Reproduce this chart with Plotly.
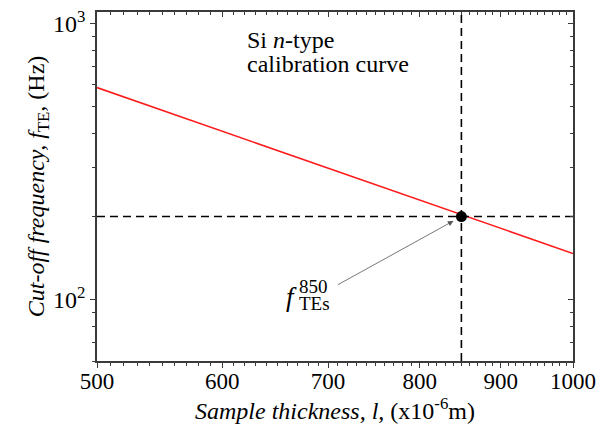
import numpy as np
import plotly.graph_objects as go

# ---- data ----
thickness = [500, 600, 700, 800, 850, 900, 1000]          # x10^-6 m
frequency = [586, 407, 299, 229, 203, 181, 147]            # Hz
sample_l = 850
sample_f = 200
x_range_vals = [500, 1000]
y_range_vals = [60, 1100]
x_tickvals = [500, 600, 700, 800, 900, 1000]
x_ticktext = ["500", "600", "700", "800", "900", "1000"]
x_minor = [v for v in range(510, 1000, 10) if v not in x_tickvals]
y_tickvals = [100, 1000]
y_ticktext = ["10<sup>2</sup>", "10<sup>3</sup>"]
y_minor = [60, 70, 80, 90, 200, 300, 400, 500, 600, 700, 800, 900]

FONT = "Liberation Serif"
AX = "#3a3a3a"

fig = go.Figure()

# red calibration curve
fig.add_trace(go.Scatter(x=thickness, y=frequency, mode="lines",
                         line=dict(color="#ff1a1a", width=1.6),
                         showlegend=False, hoverinfo="skip"))
# dashed guides
fig.add_trace(go.Scatter(x=x_range_vals, y=[sample_f, sample_f], mode="lines",
                         line=dict(color="black", width=1.6, dash="8px,5px"),
                         showlegend=False, hoverinfo="skip"))
fig.add_trace(go.Scatter(x=[sample_l, sample_l], y=y_range_vals, mode="lines",
                         line=dict(color="black", width=1.6, dash="8px,5px"),
                         showlegend=False, hoverinfo="skip"))
# sample point
fig.add_trace(go.Scatter(x=[sample_l], y=[sample_f], mode="markers",
                         marker=dict(color="black", size=11),
                         showlegend=False, hoverinfo="skip"))
# invisible trace for mirrored axes
fig.add_trace(go.Scatter(x=thickness, y=frequency, mode="lines", xaxis="x2", yaxis="y2",
                         line=dict(width=0, color="rgba(0,0,0,0)"),
                         showlegend=False, hoverinfo="skip"))

xr = [np.log10(x_range_vals[0]), np.log10(x_range_vals[1])]
yr = [np.log10(y_range_vals[0]), np.log10(y_range_vals[1])]

common_x = dict(type="log", range=xr, tickmode="array", tickvals=x_tickvals,
                showline=True, linecolor=AX, linewidth=1.5, showgrid=False,
                zeroline=False, tickcolor=AX, tickwidth=1.3, ticklen=5)
common_y = dict(type="log", range=yr, tickmode="array", tickvals=y_tickvals,
                showline=True, linecolor=AX, linewidth=1.5, showgrid=False,
                zeroline=False, tickcolor=AX, tickwidth=1.3, ticklen=5)

fig.update_layout(
    width=606, height=430,
    margin=dict(l=97, r=33, t=7, b=69),
    paper_bgcolor="white", plot_bgcolor="white",
    font=dict(family=FONT, color="black", size=20),
    xaxis=dict(**common_x, ticks="outside", ticktext=x_ticktext,
               tickfont=dict(size=23, family=FONT), ticklabelstandoff=-6,
               minor=dict(tickmode="array", tickvals=x_minor, ticks="outside",
                          ticklen=3, tickcolor=AX, tickwidth=1.2),
               title=dict(text="<i>Sample thickness, l,</i> (x10<sup>-6</sup>m)",
                          font=dict(size=24, family=FONT), standoff=0)),
    yaxis=dict(**common_y, ticks="outside", ticktext=y_ticktext,
               tickfont=dict(size=24, family=FONT),
               minor=dict(tickmode="array", tickvals=y_minor, ticks="outside",
                          ticklen=3, tickcolor=AX, tickwidth=1.2),
               title=dict(text="<i>Cut-off frequency, f</i><sub>TE</sub>, (Hz)",
                          font=dict(size=24, family=FONT), standoff=2)),
    xaxis2=dict(**common_x, overlaying="x", side="top", ticks="inside",
                showticklabels=False,
                minor=dict(tickmode="array", tickvals=x_minor, ticks="inside",
                           ticklen=3, tickcolor=AX, tickwidth=1.2)),
    yaxis2=dict(**common_y, overlaying="y", side="right", ticks="inside",
                showticklabels=False,
                minor=dict(tickmode="array", tickvals=y_minor, ticks="inside",
                           ticklen=3, tickcolor=AX, tickwidth=1.2)),
)

def px(xp):
    return (xp - 97) / 476.0

def py(yp):
    return (361 - yp) / 354.0

annos = [
    dict(text="Si <i>n</i>-type", x=px(245), y=py(35), xanchor="left", yanchor="middle",
         font=dict(size=24)),
    dict(text="calibration curve", x=px(245), y=py(60), xanchor="left", yanchor="middle",
         font=dict(size=24)),
    dict(text="<i>f</i>", x=px(299), y=py(296), xanchor="right", yanchor="middle",
         font=dict(size=27)),
    dict(text="850", x=px(297), y=py(285), xanchor="left", yanchor="middle",
         font=dict(size=19)),
    dict(text="TEs", x=px(297), y=py(303), xanchor="left", yanchor="middle",
         font=dict(size=19)),
]
for a in annos:
    fig.add_annotation(xref="paper", yref="paper", showarrow=False, **a)

fig.add_annotation(x=np.log10(sample_l), y=np.log10(sample_f), xref="x", yref="y",
                   ax=-125, ay=69, axref="pixel", ayref="pixel", text="",
                   showarrow=True, arrowhead=2, arrowsize=1.4, arrowwidth=0.8,
                   arrowcolor="#555555", standoff=9)

fig.write_html("out.html", config={"displayModeBar": False},
               post_script="document.body.style.margin='0';")
